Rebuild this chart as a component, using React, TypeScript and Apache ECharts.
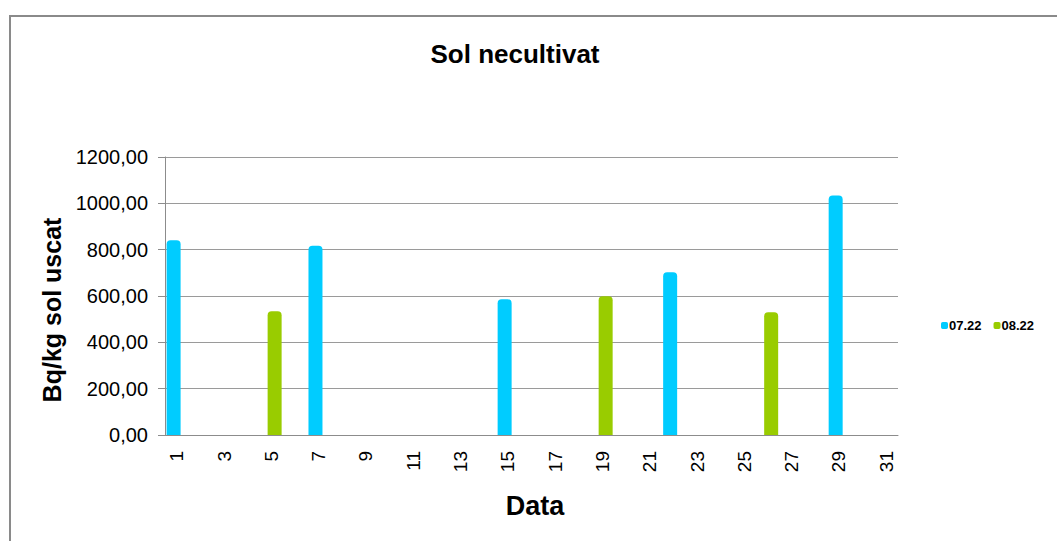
import React, { useEffect, useRef } from "react";
import * as echarts from "echarts";

const days: string[] = Array.from({ length: 31 }, (_, i) => String(i + 1));
// values per day (null = no measurement)
const jul22: (number | null)[] = [
  841, null, null, null, null, null, 817, null, null, null,
  null, null, null, null, 586, null, null, null, null, null,
  null, 703, null, null, null, null, null, null, 1034, null, null,
];
const aug22: (number | null)[] = [
  null, null, null, null, 534, null, null, null, null, null,
  null, null, null, null, null, null, null, null, 599, null,
  null, null, null, null, null, 530, null, null, null, null, null,
];
const seriesNames = ["07.22", "08.22"];
const yTicks = { min: 0, max: 1200, interval: 200 };

const FONT = "'Liberation Sans', Arial, sans-serif";

export default function App() {
  const ref = useRef<HTMLDivElement>(null);
  useEffect(() => {
    if (!ref.current) return;
    const chart = echarts.init(ref.current, null, { renderer: "svg" });
    chart.setOption({
      animation: false,
      backgroundColor: "#ffffff",
      textStyle: { fontFamily: FONT },
      legend: {
        data: seriesNames,
        left: 936,
        top: 314,
        itemWidth: 7,
        itemHeight: 7,
        itemGap: 12,
        icon: "roundRect",
        textStyle: { fontFamily: FONT, fontSize: 13, fontWeight: "bold", color: "#000", padding: [0, 0, 0, -4] },
      },
      grid: { left: 165, right: 159, top: 157, bottom: 106, containLabel: false },
      xAxis: {
        type: "category",
        data: days,
        axisLine: { lineStyle: { color: "#8c8c8c", width: 1 } },
        axisTick: { show: false },
        axisLabel: {
          interval: 1,
          rotate: 90,
          margin: 16,
          fontFamily: FONT,
          fontSize: 19,
          color: "#000",
        },
      },
      yAxis: {
        type: "value",
        min: yTicks.min,
        max: yTicks.max,
        interval: yTicks.interval,
        axisLine: { show: true, lineStyle: { color: "#8c8c8c", width: 1 } },
        axisTick: { show: true, length: 7, lineStyle: { color: "#8c8c8c" } },
        splitLine: { lineStyle: { color: "#9a9a9a", width: 1 } },
        axisLabel: {
          margin: 17,
          fontFamily: FONT,
          fontSize: 20,
          color: "#000",
          formatter: (v: number) => v.toFixed(2).replace(".", ","),
        },
      },
      series: [
        {
          name: seriesNames[0],
          type: "bar",
          data: jul22,
          barWidth: 14,
          barGap: "-54%",
          itemStyle: { color: "#00CCFF", borderRadius: [4, 4, 0, 0] },
        },
        {
          name: seriesNames[1],
          type: "bar",
          data: aug22,
          barWidth: 14,
          barGap: "-54%",
          itemStyle: { color: "#99CC00", borderRadius: [4, 4, 0, 0] },
        },
      ],
      graphic: [
        {
          type: "rect",
          shape: { x: 10, y: 16, width: 1100, height: 600 },
          style: { fill: "none", stroke: "#8a8a8a", lineWidth: 2 },
          silent: true,
        },
        {
          type: "text",
          x: 515,
          y: 54,
          style: {
            text: "Sol necultivat",
            fontFamily: FONT,
            fontSize: 26,
            fontWeight: "bold",
            fill: "#000",
            align: "center",
            verticalAlign: "middle",
          },
        },
        {
          type: "text",
          x: 52,
          y: 310,
          rotation: Math.PI / 2,
          style: {
            text: "Bq/kg sol uscat",
            fontFamily: FONT,
            fontSize: 25,
            fontWeight: "bold",
            fill: "#000",
            align: "center",
            verticalAlign: "middle",
          },
        },
        {
          type: "text",
          x: 535,
          y: 506,
          style: {
            text: "Data",
            fontFamily: FONT,
            fontSize: 27,
            fontWeight: "bold",
            fill: "#000",
            align: "center",
            verticalAlign: "middle",
          },
        },
      ],
    });
    return () => chart.dispose();
  }, []);
  return (
    <div
      ref={ref}
      style={{ position: "fixed", left: 0, top: 0, width: 1057, height: 541 }}
    />
  );
}
